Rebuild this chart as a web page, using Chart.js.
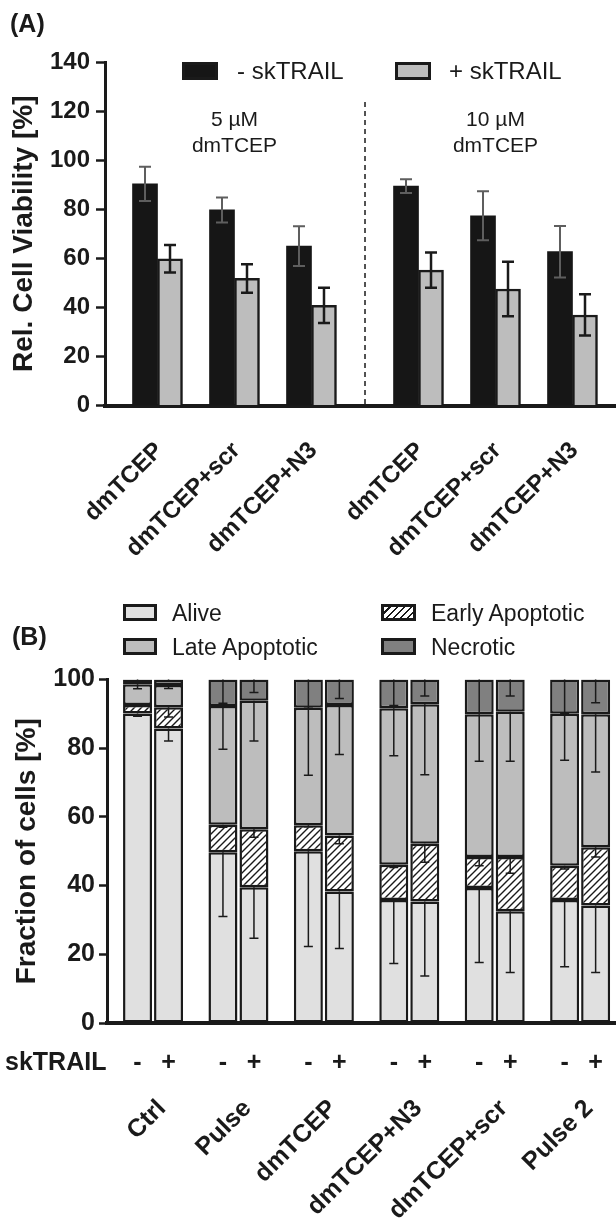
<!DOCTYPE html>
<html lang="en">
<head>
  <meta charset="UTF-8" />
  <title>Cell viability and cell fractions</title>
  <script src="https://cdn.jsdelivr.net/npm/chart.js"></script>
  <style>
    body {
      margin: 0;
      background: #fff;
      font-family: "Liberation Sans", Arial, sans-serif;
      color: #1a1a1a;
    }

    #page {
      position: relative;
      width: 616px;
      height: 1220px;
      overflow: hidden;
    }

    canvas {
      position: absolute;
      left: 0;
    }

    #chartA { top: 0; }
    #chartB { top: 590px; }

    .tag {
      position: absolute;
      font-weight: bold;
      font-size: 25px;
      line-height: 1;
    }

    .key {
      position: absolute;
      box-sizing: border-box;
      border: 3px solid #1a1a1a;
    }

    .key-text {
      position: absolute;
      line-height: 1;
      white-space: nowrap;
    }

    .hatch {
      background: repeating-linear-gradient(135deg, #fff 0 3.5px, #1a1a1a 3.5px 5px);
    }
  </style>
</head>
<body>
  <div id="page">
    <canvas id="chartA" width="616" height="600"></canvas>
    <canvas id="chartB" width="616" height="630"></canvas>

    <!-- panel A -->
    <div class="tag" style="left:10px; top:11px;">(A)</div>
    <div class="key" style="left:182px; top:62px; width:36px; height:18px; background:#161616;"></div>
    <div class="key-text" style="left:237px; top:59px; font-size:24px;">- skTRAIL</div>
    <div class="key" style="left:395px; top:62px; width:36px; height:18px; background:#bdbdbd;"></div>
    <div class="key-text" style="left:449px; top:59px; font-size:24px;">+ skTRAIL</div>

    <!-- panel B -->
    <div class="tag" style="left:12px; top:624px;">(B)</div>
    <div class="key" style="left:123px; top:604px; width:34px; height:17px; background:#e0e0e0;"></div>
    <div class="key-text" style="left:172px; top:602px; font-size:23px;">Alive</div>
    <div class="key hatch" style="left:381px; top:604px; width:35px; height:17px;"></div>
    <div class="key-text" style="left:431px; top:602px; font-size:23px;">Early Apoptotic</div>
    <div class="key" style="left:123px; top:638px; width:34px; height:17px; background:#bdbdbd;"></div>
    <div class="key-text" style="left:172px; top:636px; font-size:23px;">Late Apoptotic</div>
    <div class="key" style="left:381px; top:638px; width:35px; height:17px; background:#808080;"></div>
    <div class="key-text" style="left:431px; top:636px; font-size:23px;">Necrotic</div>
  </div>

  <script>
    // (A) relative cell viability, mean and error per group
    const groupsA = ["dmTCEP", "dmTCEP+scr", "dmTCEP+N3", "dmTCEP", "dmTCEP+scr", "dmTCEP+N3"];
    const doseLabels = [["5 µM", "dmTCEP"], ["10 µM", "dmTCEP"]];
    const viabilityMinus = [90.3, 79.7, 65.0, 89.4, 77.3, 62.7];
    const viabilityMinusErr = [7.0, 5.1, 8.1, 2.8, 10.0, 10.5];
    const viabilityPlus = [59.8, 51.8, 40.8, 55.2, 47.5, 36.9];
    const viabilityPlusErr = [5.6, 5.8, 7.2, 7.2, 11.1, 8.4];

    // (B) fraction of cells per state, without / with skTRAIL
    const groupsB = ["Ctrl", "Pulse", "dmTCEP", "dmTCEP+N3", "dmTCEP+scr", "Pulse 2"];
    const trailLabel = "skTRAIL";
    const trailSigns = ["-", "+"];
    const aliveMinus = [90.1, 49.7, 50.0, 35.8, 39.3, 35.8];
    const earlyMinus = [2.5, 8.0, 7.6, 10.3, 9.0, 10.0];
    const lateMinus = [6.0, 34.6, 34.2, 45.5, 41.6, 44.2];
    const necroticMinus = [1.4, 7.7, 8.2, 8.4, 10.1, 10.0];
    const alivePlus = [85.7, 39.5, 38.3, 35.4, 32.5, 34.2];
    const earlyPlus = [6.2, 16.9, 16.3, 16.8, 15.8, 17.0];
    const latePlus = [6.5, 37.4, 38.0, 40.6, 42.3, 38.7];
    const necroticPlus = [1.6, 6.2, 7.4, 7.2, 9.4, 10.1];
    const aliveMinusErr = [0.8, 18.7, 27.7, 18.5, 21.7, 19.4];
    const earlyMinusErr = [0.3, 0.7, 0.5, 0.8, 2.5, 1.0];
    const lateMinusErr = [1.3, 12.6, 19.7, 13.8, 13.7, 13.5];
    const necroticMinusErr = [0.4, 6.9, 8.4, 7.6, 9.7, 9.9];
    const alivePlusErr = [3.6, 14.8, 16.6, 21.7, 17.8, 19.5];
    const earlyPlusErr = [2.8, 2.3, 2.4, 5.4, 4.7, 2.9];
    const latePlusErr = [1.0, 11.7, 14.4, 20.5, 14.4, 16.8];
    const necroticPlusErr = [0.4, 3.8, 5.5, 4.8, 4.8, 6.8];

    const ink = "#1a1a1a";
    const fontFamily = '"Liberation Sans", Arial, sans-serif';
    Chart.defaults.font.family = fontFamily;
    Chart.defaults.color = ink;
    Chart.defaults.animation = false;

    // extra room between the 5 µM and 10 µM blocks, in group widths
    const doseGap = 0.39;
    const xA = groupsA.map((_, i) => i + (i >= 3 ? doseGap : 0));
    const xB = groupsB.map((_, i) => i);

    // error bars: symmetric for (A), downward from segment top for (B)
    const errorBars = {
      id: "errorBars",
      afterDatasetsDraw(chart) {
        const ctx = chart.ctx;
        const y = chart.scales.y;
        chart.data.datasets.forEach((ds, di) => {
          if (!ds.err) return;
          const meta = chart.getDatasetMeta(di);
          ctx.save();
          ctx.strokeStyle = ds.errColor;
          ctx.lineWidth = ds.errWidth;
          meta.data.forEach((bar, i) => {
            const e = ds.err[i];
            let top, bottom;
            if (ds.errDown) {
              top = bar.y;
              bottom = y.getPixelForValue(y.getValueForPixel(bar.y) - e);
            } else {
              top = y.getPixelForValue(ds.data[i].y + e);
              bottom = y.getPixelForValue(ds.data[i].y - e);
            }
            const half = ds.errCap / 2;
            ctx.beginPath();
            ctx.moveTo(bar.x, top);
            ctx.lineTo(bar.x, bottom);
            ctx.moveTo(bar.x - half, bottom);
            ctx.lineTo(bar.x + half, bottom);
            if (!ds.errDown) {
              ctx.moveTo(bar.x - half, top);
              ctx.lineTo(bar.x + half, top);
            }
            ctx.stroke();
          });
          ctx.restore();
        });
      }
    };

    // dashed separator and dose captions in (A)
    const doseBlocks = {
      id: "doseBlocks",
      beforeDatasetsDraw(chart) {
        const { ctx, scales: { x, y } } = chart;
        const sep = (x.getPixelForValue(xA[2]) + x.getPixelForValue(xA[3])) / 2;
        ctx.save();
        ctx.strokeStyle = ink;
        ctx.lineWidth = 1.5;
        ctx.setLineDash([5, 4]);
        ctx.beginPath();
        ctx.moveTo(sep, y.top + 40);
        ctx.lineTo(sep, y.bottom);
        ctx.stroke();
        ctx.setLineDash([]);
        ctx.fillStyle = ink;
        ctx.font = "21px " + fontFamily;
        ctx.textAlign = "center";
        ctx.textBaseline = "alphabetic";
        doseLabels.forEach((lines, b) => {
          const cx = x.getPixelForValue(xA[b * 3 + 1]);
          lines.forEach((t, k) => ctx.fillText(t, cx, y.top + 64 + k * 25.5));
        });
        ctx.restore();
      }
    };

    // skTRAIL - / + row under (B)
    const trailRow = {
      id: "trailRow",
      afterDraw(chart) {
        const ctx = chart.ctx;
        const rowY = chart.chartArea.bottom + 40;
        ctx.save();
        ctx.fillStyle = ink;
        ctx.font = "bold 25px " + fontFamily;
        ctx.textBaseline = "middle";
        ctx.textAlign = "left";
        ctx.fillText(trailLabel, 5, rowY);
        ctx.textAlign = "center";
        [0, 1].forEach(di => {
          chart.getDatasetMeta(di).data.forEach(bar => ctx.fillText(trailSigns[di], bar.x, rowY));
        });
        ctx.restore();
      }
    };

    new Chart(document.getElementById("chartA"), {
      type: "bar",
      data: {
        datasets: [
          {
            label: "- skTRAIL",
            data: viabilityMinus.map((v, i) => ({ x: xA[i], y: v })),
            backgroundColor: "#161616",
            borderWidth: 0,
            barThickness: 25,
            err: viabilityMinusErr, errColor: "#5e5e5e", errWidth: 2, errCap: 12,
          },
          {
            label: "+ skTRAIL",
            data: viabilityPlus.map((v, i) => ({ x: xA[i], y: v })),
            backgroundColor: "#bdbdbd",
            borderColor: ink,
            borderWidth: 2.5,
            barThickness: 25,
            err: viabilityPlusErr, errColor: ink, errWidth: 2.5, errCap: 12,
          },
        ],
      },
      options: {
        responsive: false,
        layout: { padding: { top: 62, left: 0, right: 0, bottom: 0 } },
        plugins: { legend: { display: false }, tooltip: { enabled: false } },
        scales: {
          x: {
            type: "linear", min: -0.682, max: 5.955, offset: false,
            afterBuildTicks: s => { s.ticks = xA.map(v => ({ value: v })); },
            ticks: {
              autoSkip: false, minRotation: 45, maxRotation: 45, padding: 23, labelOffset: 2,
              font: { size: 24, weight: "bold" }, color: ink,
              callback: (v, i) => groupsA[i],
            },
            grid: { display: false },
            border: { display: true, width: 4, color: ink },
            afterFit: s => { s.height = 194.5; s.paddingLeft = 0; s.paddingRight = 0; },
          },
          y: {
            min: 0, max: 140,
            ticks: { stepSize: 20, padding: 6, font: { size: 24, weight: "bold" }, color: ink },
            grid: { display: true, drawOnChartArea: false, drawTicks: true, tickLength: 9, tickWidth: 2.5, tickColor: ink },
            border: { display: true, width: 3, color: ink },
            title: {
              display: true, text: "Rel. Cell Viability [%]", color: ink,
              font: { size: 28, weight: "bold" }, padding: { top: 7, bottom: 0 },
            },
            afterFit: s => { s.width = 105; },
          },
        },
      },
      plugins: [doseBlocks, errorBars],
    });

    function hatchPattern() {
      const c = document.createElement("canvas");
      c.width = c.height = 7;
      const g = c.getContext("2d");
      g.fillStyle = "#fff";
      g.fillRect(0, 0, 7, 7);
      g.strokeStyle = ink;
      g.lineWidth = 1.4;
      g.beginPath();
      g.moveTo(0, 7); g.lineTo(7, 0);
      g.moveTo(-1, 1); g.lineTo(1, -1);
      g.moveTo(6, 8); g.lineTo(8, 6);
      g.stroke();
      return g.createPattern(c, "repeat");
    }

    const segments = [
      { label: "Alive", fill: "#e0e0e0", values: [aliveMinus, alivePlus], errs: [aliveMinusErr, alivePlusErr] },
      { label: "Early Apoptotic", fill: hatchPattern(), values: [earlyMinus, earlyPlus], errs: [earlyMinusErr, earlyPlusErr] },
      { label: "Late Apoptotic", fill: "#bdbdbd", values: [lateMinus, latePlus], errs: [lateMinusErr, latePlusErr] },
      { label: "Necrotic", fill: "#808080", values: [necroticMinus, necroticPlus], errs: [necroticMinusErr, necroticPlusErr] },
    ];

    const datasetsB = [];
    segments.forEach(seg => {
      ["minus", "plus"].forEach((stack, k) => {
        datasetsB.push({
          label: seg.label,
          stack: stack,
          data: seg.values[k].map((v, i) => ({ x: xB[i], y: v })),
          backgroundColor: seg.fill,
          borderColor: ink,
          borderWidth: 2.5,
          borderSkipped: false,
          categoryPercentage: 0.726,
          barPercentage: 0.935,
          err: seg.errs[k], errDown: true, errColor: ink, errWidth: 1.5, errCap: 9,
        });
      });
    });

    new Chart(document.getElementById("chartB"), {
      type: "bar",
      data: { datasets: datasetsB },
      options: {
        responsive: false,
        layout: { padding: { top: 89.5, left: 0, right: 0, bottom: 0 } },
        plugins: { legend: { display: false }, tooltip: { enabled: false } },
        scales: {
          x: {
            type: "linear", min: -0.539, max: 5.42, offset: false, stacked: true,
            afterBuildTicks: s => { s.ticks = xB.map(v => ({ value: v })); },
            ticks: {
              autoSkip: false, minRotation: 45, maxRotation: 45, padding: 63, labelOffset: 9,
              font: { size: 25, weight: "bold" }, color: ink,
              callback: (v, i) => groupsB[i],
            },
            grid: { display: false },
            border: { display: true, width: 4, color: ink },
            afterFit: s => { s.height = 197; s.paddingLeft = 0; s.paddingRight = 0; },
          },
          y: {
            min: 0, max: 100, stacked: true,
            ticks: { stepSize: 20, padding: 4, font: { size: 25, weight: "bold" }, color: ink },
            grid: { display: true, drawOnChartArea: false, drawTicks: true, tickLength: 8, tickWidth: 2.5, tickColor: ink },
            border: { display: true, width: 3, color: ink },
            title: {
              display: true, text: "Fraction of cells [%]", color: ink,
              font: { size: 28, weight: "bold" }, padding: { top: 10, bottom: 0 },
            },
            afterFit: s => { s.width = 107; },
          },
        },
      },
      plugins: [errorBars, trailRow],
    });
  </script>
</body>
</html>
